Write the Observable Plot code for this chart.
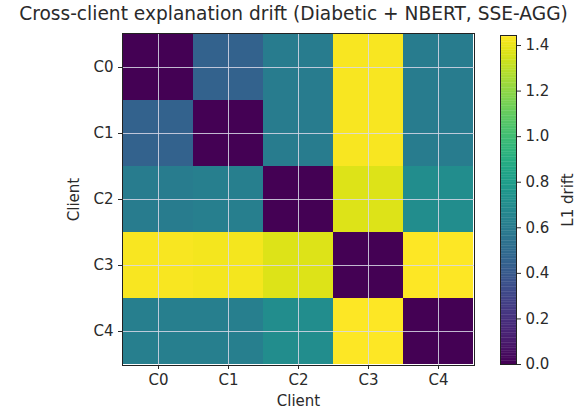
<!DOCTYPE html>
<html>
<head>
<meta charset="utf-8">
<script src="https://cdn.jsdelivr.net/npm/d3@7"></script>
<script src="https://cdn.jsdelivr.net/npm/@observablehq/plot@0.6"></script>
<style>
  body { margin:0; background:#fff; }
  #wrap { position:relative; width:587px; height:412px; font-family:"DejaVu Sans", sans-serif; color:#2a2a2a; }
  #title { position:absolute; left:0; top:3px; width:587px; text-align:center; font-size:18.6px; line-height:22px; white-space:nowrap; }
  #main { position:absolute; left:0; top:25px; }
  #bar { position:absolute; left:480px; top:0px; }
</style>
</head>
<body>
<div id="wrap">
  <div id="title">Cross-client explanation drift (Diabetic + NBERT, SSE-AGG)</div>
  <div id="main"></div>
  <div id="bar"></div>
</div>
<script>
const clients = ["C0", "C1", "C2", "C3", "C4"];
const rowC0 = [0.00, 0.45, 0.60, 1.43, 0.60];
const rowC1 = [0.45, 0.00, 0.60, 1.43, 0.60];
const rowC2 = [0.60, 0.62, 0.00, 1.37, 0.70];
const rowC3 = [1.43, 1.42, 1.37, 0.00, 1.44];
const rowC4 = [0.62, 0.62, 0.70, 1.44, 0.00];
const colorTicks = [0, 0.2, 0.4, 0.6, 0.8, 1.0, 1.2, 1.4];
const vmax = 1.444;

const rows = [rowC0, rowC1, rowC2, rowC3, rowC4];
const cells = [];
rows.forEach((r, i) => r.forEach((v, j) => cells.push({row: clients[i], col: clients[j], v})));

const colorOpts = {type: "linear", scheme: "viridis", domain: [0, vmax]};

const main = Plot.plot({
  width: 490, height: 387,
  marginLeft: 122, marginRight: 16, marginTop: 8, marginBottom: 47,
  style: {fontFamily: "DejaVu Sans, sans-serif", fontSize: "15px", color: "#2a2a2a", background: "#fff", overflow: "visible"},
  x: {domain: clients, padding: 0, label: "Client", labelAnchor: "center", labelOffset: 40, labelArrow: "none", tickSize: 4},
  y: {domain: clients, padding: 0, label: "Client", labelAnchor: "center", labelOffset: 54, labelArrow: "none", tickSize: 4},
  color: colorOpts,
  marks: [
    Plot.cell(cells, {x: "col", y: "row", fill: "v", inset: 0}),
    Plot.ruleX(clients, {x: d => d, stroke: "#d8d8e8", strokeOpacity: 0.85, strokeWidth: 1}),
    Plot.ruleY(clients, {y: d => d, stroke: "#d8d8e8", strokeOpacity: 0.85, strokeWidth: 1}),
    Plot.frame({stroke: "#222", strokeWidth: 1})
  ]
});
document.getElementById("main").appendChild(main);

const step = vmax / 200;
const grad = d3.range(0, 200).map(i => ({y1: i * step, y2: (i + 1) * step + step * 0.2, v: (i + 0.5) * step}));

const bar = Plot.plot({
  width: 107, height: 412,
  marginLeft: 20, marginRight: 71, marginTop: 35, marginBottom: 48,
  style: {fontFamily: "DejaVu Sans, sans-serif", fontSize: "15px", color: "#2a2a2a", background: "transparent", overflow: "visible"},
  x: {domain: [0, 1], axis: null},
  y: {domain: [0, vmax], axis: null},
  color: colorOpts,
  marks: [
    Plot.rect(grad, {x1: 0, x2: 1, y1: "y1", y2: d => Math.min(d.y2, vmax), fill: "v"}),
    Plot.frame({stroke: "#222", strokeWidth: 1}),
    Plot.axisY(colorTicks, {anchor: "right", tickSize: 4, tickFormat: d3.format(".1f"), label: "L1 drift", labelAnchor: "center", labelOffset: 56, labelArrow: "none"})
  ]
});
document.getElementById("bar").appendChild(bar);
</script>
</body>
</html>
